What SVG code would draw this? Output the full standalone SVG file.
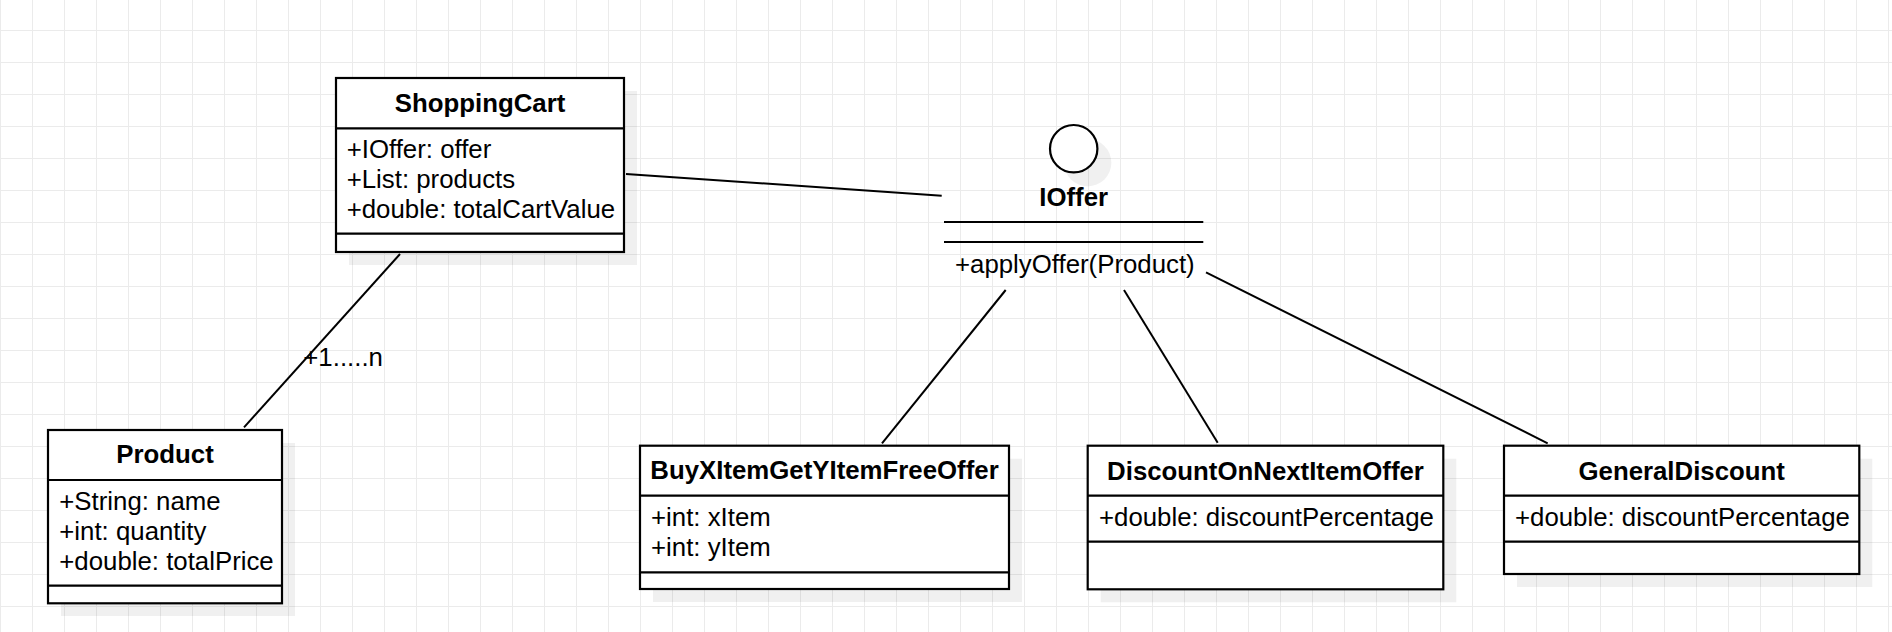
<svg xmlns="http://www.w3.org/2000/svg" width="1892" height="632" viewBox="0 0 1892 632">
<style>
.box{fill:#ffffff;stroke:#000;stroke-width:2.2}
.sh{fill:#000;fill-opacity:0.06;stroke:none}
.ln{stroke:#000;stroke-width:2.2;fill:none}
.t{font-family:"Liberation Sans",Arial,sans-serif;font-size:25.8px;fill:#000}
.b{font-weight:bold;text-anchor:middle}
.conn line{stroke:#000;stroke-width:2;fill:none}
</style>
<defs>
<pattern id="grid" patternUnits="userSpaceOnUse" x="0" y="-2" width="32" height="32">
<path d="M0.5 0 V32 M0 0.5 H32" stroke="#ebebeb" stroke-width="1" fill="none"/>
</pattern>
</defs>
<rect x="0" y="0" width="1892" height="632" fill="#ffffff"/>
<rect x="0" y="0" width="1892" height="632" fill="url(#grid)"/>

<g id="connectors" class="conn">
<line x1="626" y1="174" x2="941.7" y2="195.7"/>
<line x1="400" y1="254" x2="244" y2="427.3"/>
<line x1="1005.7" y1="290" x2="882" y2="443.3"/>
<line x1="1124" y1="290" x2="1217.7" y2="442.7"/>
<line x1="1206" y1="272.3" x2="1547.7" y2="443.3"/>
<text class="t" x="303.3" y="366">+1.....n</text>
</g>

<g id="ShoppingCart">
<rect class="sh" x="349" y="91" width="288" height="174"/>
<rect class="box" x="336" y="78" width="288" height="174"/>
<line class="ln" x1="336" y1="128.3" x2="624" y2="128.3"/>
<line class="ln" x1="336" y1="233.7" x2="624" y2="233.7"/>
<text class="t b" x="480" y="112.3">ShoppingCart</text>
<text class="t" x="346.7" y="157.5">+IOffer: offer</text>
<text class="t" x="346.7" y="187.5">+List: products</text>
<text class="t" x="346.7" y="217.5">+double: totalCartValue</text>
</g>

<g id="IOffer">
<circle class="sh" cx="1087.7" cy="162.7" r="23.7"/>
<circle cx="1073.7" cy="148.7" r="23.7" fill="#ffffff" stroke="#000" stroke-width="2.2"/>
<text class="t b" x="1073.7" y="205.7">IOffer</text>
<line class="ln" x1="944" y1="222" x2="1203.3" y2="222"/>
<line class="ln" x1="944" y1="242" x2="1203.3" y2="242"/>
<text class="t" x="955" y="272.7">+applyOffer(Product)</text>
</g>

<g id="Product">
<rect class="sh" x="61" y="443" width="234" height="173"/>
<rect class="box" x="48" y="430" width="234" height="173.3"/>
<line class="ln" x1="48" y1="480" x2="282" y2="480"/>
<line class="ln" x1="48" y1="585.7" x2="282" y2="585.7"/>
<text class="t b" x="165" y="463.3">Product</text>
<text class="t" x="59.3" y="510">+String: name</text>
<text class="t" x="59.3" y="540">+int: quantity</text>
<text class="t" x="59.3" y="570">+double: totalPrice</text>
</g>

<g id="BuyXItemGetYItemFreeOffer">
<rect class="sh" x="653" y="458.7" width="369" height="143.3"/>
<rect class="box" x="640" y="445.7" width="369" height="143.3"/>
<line class="ln" x1="640" y1="495.7" x2="1009" y2="495.7"/>
<line class="ln" x1="640" y1="572.3" x2="1009" y2="572.3"/>
<text class="t b" x="824.5" y="479.3">BuyXItemGetYItemFreeOffer</text>
<text class="t" x="651" y="526">+int: xItem</text>
<text class="t" x="651" y="556">+int: yItem</text>
</g>

<g id="DiscountOnNextItemOffer">
<rect class="sh" x="1100.7" y="458.7" width="355.6" height="143.6"/>
<rect class="box" x="1087.7" y="445.7" width="355.6" height="143.6"/>
<line class="ln" x1="1087.7" y1="495.7" x2="1443.3" y2="495.7"/>
<line class="ln" x1="1087.7" y1="541.7" x2="1443.3" y2="541.7"/>
<text class="t b" x="1265.5" y="480">DiscountOnNextItemOffer</text>
<text class="t" x="1099" y="525.7">+double: discountPercentage</text>
</g>

<g id="GeneralDiscount">
<rect class="sh" x="1517" y="458.7" width="355.3" height="128.3"/>
<rect class="box" x="1504" y="445.7" width="355.3" height="128.3"/>
<line class="ln" x1="1504" y1="495.7" x2="1859.3" y2="495.7"/>
<line class="ln" x1="1504" y1="541.7" x2="1859.3" y2="541.7"/>
<text class="t b" x="1681.7" y="480">GeneralDiscount</text>
<text class="t" x="1515" y="525.7">+double: discountPercentage</text>
</g>
</svg>
